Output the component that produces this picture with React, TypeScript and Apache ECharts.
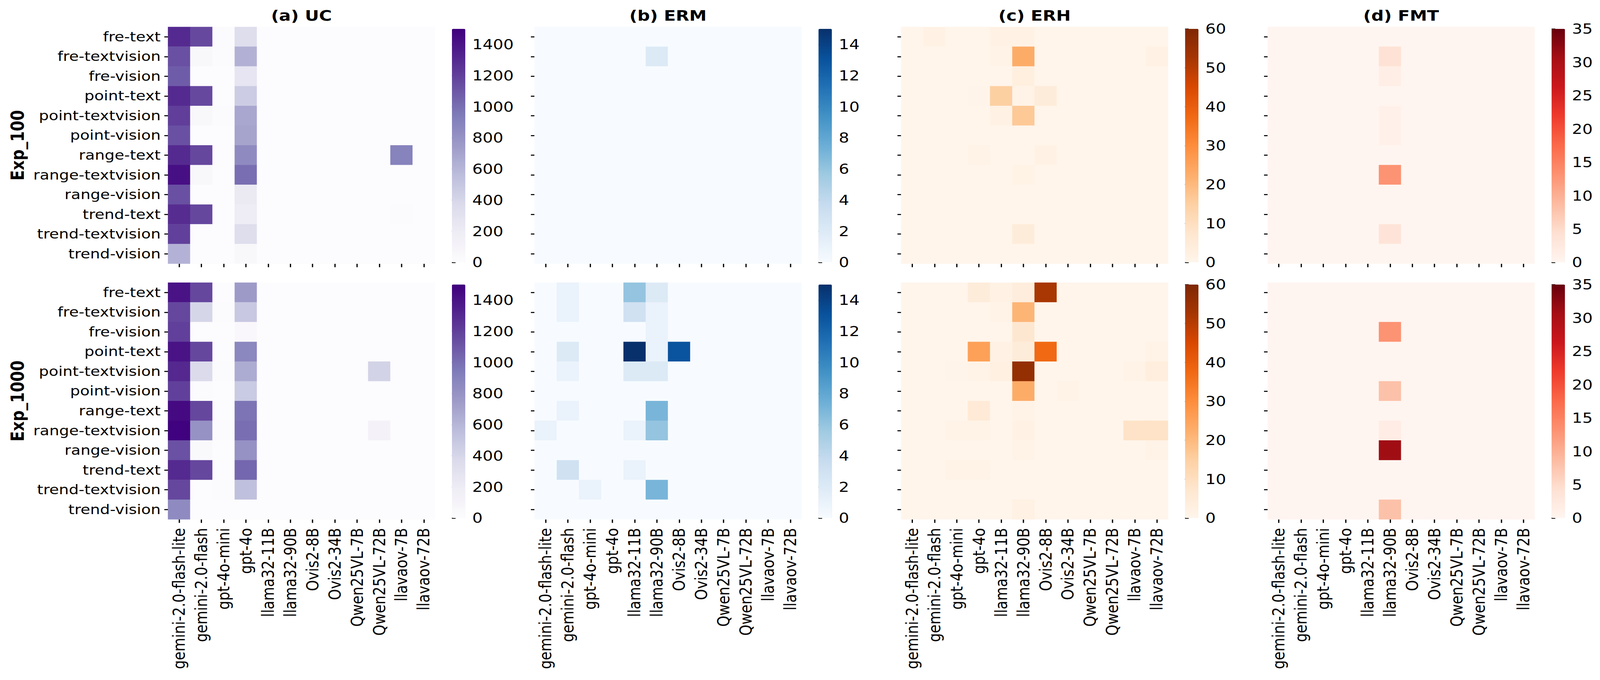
import React, { useEffect, useRef } from "react";
import * as echarts from "echarts";

const ROWS = [
  "fre-text", "fre-textvision", "fre-vision",
  "point-text", "point-textvision", "point-vision",
  "range-text", "range-textvision", "range-vision",
  "trend-text", "trend-textvision", "trend-vision",
];
const MODELS = [
  "gemini-2.0-flash-lite", "gemini-2.0-flash", "gpt-4o-mini", "gpt-4o",
  "llama32-11B", "llama32-90B", "Ovis2-8B", "Ovis2-34B",
  "Qwen25VL-7B", "Qwen25VL-72B", "llavaov-7B", "llavaov-72B",
];
const TITLES = ["(a) UC", "(b) ERM", "(c) ERH", "(d) FMT"];
const GROUPS = ["Exp_100", "Exp_1000"];

// UC – Exp_100 / Exp_1000
const UC_100 = [
  [1300, 1160, 10, 340, 0, 0, 0, 0, 0, 0, 0, 0],
  [1130, 60, 12, 625, 0, 0, 0, 0, 0, 0, 0, 0],
  [1080, 0, 0, 270, 0, 0, 0, 0, 0, 0, 0, 0],
  [1300, 1160, 0, 465, 0, 0, 0, 0, 0, 0, 0, 0],
  [1210, 60, 10, 680, 0, 0, 0, 0, 0, 0, 0, 0],
  [1130, 0, 0, 700, 0, 0, 0, 0, 0, 0, 0, 0],
  [1300, 1170, 0, 845, 0, 0, 0, 0, 0, 0, 900, 0],
  [1430, 60, 0, 1000, 0, 0, 0, 0, 0, 0, 0, 0],
  [1130, 0, 0, 220, 0, 0, 0, 0, 0, 0, 0, 0],
  [1290, 1170, 0, 200, 0, 0, 0, 0, 0, 0, 15, 0],
  [1200, 0, 0, 340, 0, 0, 0, 0, 0, 0, 0, 0],
  [620, 0, 0, 60, 0, 0, 0, 0, 0, 0, 0, 0],
];
const UC_1000 = [
  [1410, 1170, 0, 750, 0, 0, 0, 0, 0, 0, 0, 0],
  [1170, 400, 15, 490, 0, 0, 0, 0, 0, 0, 0, 0],
  [1200, 0, 0, 50, 0, 0, 0, 0, 0, 0, 0, 0],
  [1410, 1170, 0, 870, 0, 0, 0, 0, 0, 0, 0, 0],
  [1310, 370, 15, 660, 0, 0, 0, 0, 0, 420, 0, 0],
  [1200, 10, 0, 480, 0, 0, 0, 0, 0, 0, 0, 0],
  [1450, 1170, 0, 975, 0, 0, 0, 0, 0, 0, 0, 0],
  [1490, 800, 8, 1000, 0, 0, 0, 0, 0, 120, 0, 0],
  [1125, 40, 0, 800, 0, 0, 0, 0, 0, 0, 0, 0],
  [1300, 1170, 0, 1030, 0, 0, 0, 0, 0, 0, 0, 0],
  [1170, 0, 15, 545, 0, 0, 0, 0, 0, 0, 0, 0],
  [845, 0, 0, 0, 0, 0, 0, 0, 0, 0, 0, 0],
];

// ERM
const ERM_100 = [
  [0, 0, 0, 0, 0, 0, 0, 0, 0, 0, 0, 0],
  [0, 0, 0, 0, 0, 2, 0, 0, 0, 0, 0, 0],
  [0, 0, 0, 0, 0, 0, 0, 0, 0, 0, 0, 0],
  [0, 0, 0, 0, 0, 0, 0, 0, 0, 0, 0, 0],
  [0, 0, 0, 0, 0, 0, 0, 0, 0, 0, 0, 0],
  [0, 0, 0, 0, 0, 0, 0, 0, 0, 0, 0, 0],
  [0, 0, 0, 0, 0, 0, 0, 0, 0, 0, 0, 0],
  [0, 0, 0, 0, 0, 0, 0, 0, 0, 0, 0, 0],
  [0, 0, 0, 0, 0, 0, 0, 0, 0, 0, 0, 0],
  [0, 0, 0, 0, 0, 0, 0, 0, 0, 0, 0, 0],
  [0, 0, 0, 0, 0, 0, 0, 0, 0, 0, 0, 0],
  [0, 0, 0, 0, 0, 0, 0, 0, 0, 0, 0, 0],
];
const ERM_1000 = [
  [0, 1, 0, 0, 6, 2, 0, 0, 0, 0, 0, 0],
  [0, 1, 0, 0, 3, 1, 0, 0, 0, 0, 0, 0],
  [0, 0, 0, 0, 0, 1, 0, 0, 0, 0, 0, 0],
  [0, 2, 0, 0, 15, 1, 13, 0, 0, 0, 0, 0],
  [0, 1, 0, 0, 2, 2, 0, 0, 0, 0, 0, 0],
  [0, 0, 0, 0, 0, 0, 0, 0, 0, 0, 0, 0],
  [0, 1, 0, 0, 0, 7, 0, 0, 0, 0, 0, 0],
  [1, 0, 0, 0, 1, 6, 0, 0, 0, 0, 0, 0],
  [0, 0, 0, 0, 0, 0, 0, 0, 0, 0, 0, 0],
  [0, 3, 0, 0, 1, 0, 0, 0, 0, 0, 0, 0],
  [0, 0, 1, 0, 0, 7, 0, 0, 0, 0, 0, 0],
  [0, 0, 0, 0, 0, 0, 0, 0, 0, 0, 0, 0],
];

// ERH
const ERH_100 = [
  [0, 1.5, 0, 0, 2, 1.5, 0, 0, 0, 0, 0, 0],
  [0, 0, 0, 0, 1, 23, 0, 0, 0, 0, 0, 1.8],
  [0, 0, 0, 0, 0, 3, 0, 0, 0, 0, 0, 0],
  [0, 0, 0, 0.5, 15, 1, 4.5, 0, 0, 0, 0, 0],
  [0, 0, 0, 0, 1.5, 16.5, 0, 0, 0, 0, 0, 0],
  [0, 0, 0, 0, 0, 0, 0, 0, 0, 0, 0, 0],
  [0, 0, 0, 1, 0, 0, 1.5, 0, 0, 0, 0, 0],
  [0, 0, 0, 0, 0, 1.2, 0, 0, 0, 0, 0, 0],
  [0, 0, 0, 0, 0, 0, 0, 0, 0, 0, 0, 0],
  [0, 0, 0, 0, 0, 0, 0, 0, 0, 0, 0, 0],
  [0, 0, 0, 0, 0, 4.5, 0, 0, 0, 0, 0, 0],
  [0, 0, 0, 0, 0, 0, 0, 0, 0, 0, 0, 0],
];
const ERH_1000 = [
  [0, 0, 0, 4.5, 1.5, 4, 52, 0, 0, 0, 0, 0],
  [0, 0, 0, 0, 1, 21, 0, 0, 0, 0, 0, 0],
  [0, 0, 0, 0, 0, 7, 0, 0, 0, 0, 0, 0],
  [0, 0, 0, 25.5, 1.5, 4.5, 37.5, 0, 0, 0, 0, 1],
  [0, 0, 0.5, 1, 2.5, 56, 0, 0, 0, 0, 1, 3.5],
  [0, 0, 0, 0, 0, 23, 0, 1, 0, 0, 0, 0],
  [0, 0, 0, 5.5, 0, 1, 0, 0, 0, 0, 0, 0],
  [0, 0, 1, 1, 0, 1.8, 0, 0, 0, 0, 8.5, 8.5],
  [0, 0, 0, 0, 0, 1, 0, 0, 0, 0, 0, 1],
  [0, 0, 1, 1, 0, 0, 0, 0, 0, 0, 0, 0],
  [0, 0, 0, 0, 0, 0, 0, 0, 0, 0, 0, 0],
  [0, 0, 0, 0, 0, 2, 0, 0, 0, 0, 0, 0],
];

// FMT
const FMT_100 = [
  [0, 0, 0, 0, 0, 0, 0, 0, 0, 0, 0, 0],
  [0, 0, 0, 0, 0, 4, 0, 0, 0, 0, 0, 0],
  [0, 0, 0, 0, 0, 1.5, 0, 0, 0, 0, 0, 0],
  [0, 0, 0, 0, 0, 0, 0, 0, 0, 0, 0, 0],
  [0, 0, 0, 0, 0, 1, 0, 0, 0, 0, 0, 0],
  [0, 0, 0, 0, 0, 1, 0, 0, 0, 0, 0, 0],
  [0, 0, 0, 0, 0, 0, 0, 0, 0, 0, 0, 0],
  [0, 0, 0, 0, 0, 13, 0, 0, 0, 0, 0, 0],
  [0, 0, 0, 0, 0, 0, 0, 0, 0, 0, 0, 0],
  [0, 0, 0, 0, 0, 0, 0, 0, 0, 0, 0, 0],
  [0, 0, 0, 0, 0, 3.5, 0, 0, 0, 0, 0, 0],
  [0, 0, 0, 0, 0, 0, 0, 0, 0, 0, 0, 0],
];
const FMT_1000 = [
  [0, 0, 0, 0, 0, 0, 0, 0, 0, 0, 0, 0],
  [0, 0, 0, 0, 0, 0, 0, 0, 0, 0, 0, 0],
  [0, 0, 0, 0, 0, 13, 0, 0, 0, 0, 0, 0],
  [0, 0, 0, 0, 0, 0, 0, 0, 0, 0, 0, 0],
  [0, 0, 0, 0, 0, 0, 0, 0, 0, 0, 0, 0],
  [0, 0, 0, 0, 0, 8, 0, 0, 0, 0, 0, 0],
  [0, 0, 0, 0, 0, 0, 0, 0, 0, 0, 0, 0],
  [0, 0, 0, 0, 0, 1.8, 0, 0, 0, 0, 0, 0],
  [0, 0, 0, 0, 0, 31, 0, 0, 0, 0, 0, 0],
  [0, 0, 0, 0, 0, 0, 0, 0, 0, 0, 0, 0],
  [0, 0, 0, 0, 0, 0, 0, 0, 0, 0, 0, 0],
  [0, 0, 0, 0, 0, 8, 0, 0, 0, 0, 0, 0],
];

const UC_TICKS = [0, 200, 400, 600, 800, 1000, 1200, 1400];
const ERM_TICKS = [0, 2, 4, 6, 8, 10, 12, 14];
const ERH_TICKS = [0, 10, 20, 30, 40, 50, 60];
const FMT_TICKS = [0, 5, 10, 15, 20, 25, 30, 35];
const MAXES = [1500, 15, 60, 35];

const PURPLES = ["#fcfbfd", "#efedf5", "#dadaeb", "#bcbddc", "#9e9ac8", "#807dba", "#6a51a3", "#54278f", "#3f007d"];
const BLUES = ["#f7fbff", "#deebf7", "#c6dbef", "#9ecae1", "#6baed6", "#4292c6", "#2171b5", "#08519c", "#08306b"];
const ORANGES = ["#fff5eb", "#fee6ce", "#fdd0a2", "#fdae6b", "#fd8d3c", "#f16913", "#d94801", "#a63603", "#7f2704"];
const REDS = ["#fff5f0", "#fee0d2", "#fcbba1", "#fc9272", "#fb6a4a", "#ef3b2c", "#cb181d", "#a50f15", "#67000d"];

const PANELS = [
  { title: TITLES[0], max: MAXES[0], ticks: UC_TICKS, colors: PURPLES, data: [UC_100, UC_1000] },
  { title: TITLES[1], max: MAXES[1], ticks: ERM_TICKS, colors: BLUES, data: [ERM_100, ERM_1000] },
  { title: TITLES[2], max: MAXES[2], ticks: ERH_TICKS, colors: ORANGES, data: [ERH_100, ERH_1000] },
  { title: TITLES[3], max: MAXES[3], ticks: FMT_TICKS, colors: REDS, data: [FMT_100, FMT_1000] },
];

// Layout: the chart is drawn in a 2:1 design frame, then stretched to fill the viewport.
const H = 1742;
const W0 = 3484;
const FONT = "DejaVu Sans";
const LEFT0 = 365.8;
const STEP = 798.2;
const HM_W = 581.2;
const HM_H = 606.5;
const ROW_TOP = [69, 724];
const CB_OFF = 618.2;
const CB_W = 29.3;
const CB_INSET = 5;
const CB_H = 598;
const TICK_STYLE = { color: "#000", width: 2.7 };

function toCells(m: number[][]) {
  const out: number[][] = [];
  m.forEach((row, y) => row.forEach((v, x) => out.push([x, y, v])));
  return out;
}

export default function App() {
  const outerRef = useRef<HTMLDivElement>(null);
  const ref = useRef<HTMLDivElement>(null);
  useEffect(() => {
    if (!ref.current || !outerRef.current) return;
    const vw = outerRef.current.clientWidth || window.innerWidth || 4286;
    const vh = outerRef.current.clientHeight || window.innerHeight || H;
    ref.current.style.transform = `scale(${vw / W0}, ${vh / H})`;
    ref.current.style.transformOrigin = "0 0";

    const chart = echarts.init(ref.current, null, { renderer: "svg", width: W0, height: H });
    const grid: any[] = [];
    const xAxis: any[] = [];
    const yAxis: any[] = [];
    const series: any[] = [];
    const visualMap: any[] = [];
    const graphic: any[] = [];

    PANELS.forEach((p, pi) => {
      const left = LEFT0 + pi * STEP;
      graphic.push({
        type: "text",
        x: left + HM_W / 2,
        y: 40,
        style: {
          text: p.title,
          fontFamily: FONT,
          fontSize: 38,
          fontWeight: "bold",
          fill: "#000",
          align: "center",
          verticalAlign: "middle",
          textAlign: "center",
          textVerticalAlign: "middle",
        },
      });
      [0, 1].forEach((ri) => {
        const top = ROW_TOP[ri];
        const gi = grid.length;
        grid.push({ left, top, width: HM_W, height: HM_H, containLabel: false });
        xAxis.push({
          type: "category",
          gridIndex: gi,
          data: MODELS,
          axisLine: { show: false },
          axisTick: { show: true, alignWithLabel: true, length: 9, lineStyle: TICK_STYLE },
          axisLabel: {
            show: ri === 1,
            interval: 0,
            rotate: 90,
            margin: 22,
            fontSize: 36,
            fontFamily: FONT,
            color: "#000",
          },
          splitLine: { show: false },
          splitArea: { show: false },
        });
        yAxis.push({
          type: "category",
          gridIndex: gi,
          data: ROWS,
          inverse: true,
          axisLine: { show: false },
          axisTick: { show: true, alignWithLabel: true, length: 8, lineStyle: TICK_STYLE },
          axisLabel: {
            show: pi === 0,
            interval: 0,
            margin: 16,
            fontSize: 34,
            fontFamily: FONT,
            color: "#000",
          },
          splitLine: { show: false },
          splitArea: { show: false },
        });
        series.push({
          type: "heatmap",
          name: `${p.title} ${GROUPS[ri]}`,
          xAxisIndex: gi,
          yAxisIndex: gi,
          data: toCells(p.data[ri]),
          emphasis: { disabled: true },
          itemStyle: { borderWidth: 0 },
          progressive: 0,
        });
        visualMap.push({
          type: "continuous",
          seriesIndex: series.length - 1,
          min: 0,
          max: p.max,
          orient: "vertical",
          left: left + CB_OFF,
          top: top + CB_INSET,
          itemWidth: CB_W,
          itemHeight: CB_H,
          calculable: false,
          hoverLink: false,
          padding: 0,
          inRange: { color: p.colors },
        });
      });
    });

    // colorbar axes
    PANELS.forEach((p, pi) => {
      const left = LEFT0 + pi * STEP;
      [0, 1].forEach((ri) => {
        const top = ROW_TOP[ri];
        const gi = grid.length;
        grid.push({ left: left + CB_OFF, top: top + CB_INSET, width: CB_W, height: CB_H, containLabel: false });
        xAxis.push({ type: "value", gridIndex: gi, show: false, min: 0, max: 1 });
        const step = p.ticks[1] - p.ticks[0];
        yAxis.push({
          type: "value",
          gridIndex: gi,
          min: 0,
          max: p.max,
          interval: step,
          position: "right",
          axisLine: { show: false },
          splitLine: { show: false },
          axisTick: { show: true, length: 8, lineStyle: TICK_STYLE, customValues: p.ticks },
          axisLabel: {
            show: true,
            margin: 15,
            fontSize: 35.5,
            fontFamily: FONT,
            color: "#000",
            customValues: p.ticks,
            formatter: (v: number) => (p.ticks.indexOf(v) >= 0 ? String(v) : ""),
          },
        });
      });
    });

    GROUPS.forEach((g, ri) => {
      graphic.push({
        type: "text",
        x: 38,
        y: ROW_TOP[ri] + HM_H / 2,
        rotation: Math.PI / 2,
        style: {
          text: g,
          fontFamily: FONT,
          fontSize: 39,
          fontWeight: "bold",
          fill: "#000",
          align: "center",
          verticalAlign: "middle",
          textAlign: "center",
          textVerticalAlign: "middle",
        },
      });
    });

    chart.setOption({
      animation: false,
      backgroundColor: "#ffffff",
      textStyle: { fontFamily: FONT },
      grid,
      xAxis,
      yAxis,
      series,
      visualMap,
      graphic,
    });
    return () => chart.dispose();
  }, []);

  return (
    <div
      ref={outerRef}
      style={{
        position: "fixed",
        left: 0,
        top: 0,
        right: 0,
        bottom: 0,
        overflow: "hidden",
        background: "#ffffff",
      }}
    >
      <div ref={ref} style={{ width: W0, height: H }} />
    </div>
  );
}
